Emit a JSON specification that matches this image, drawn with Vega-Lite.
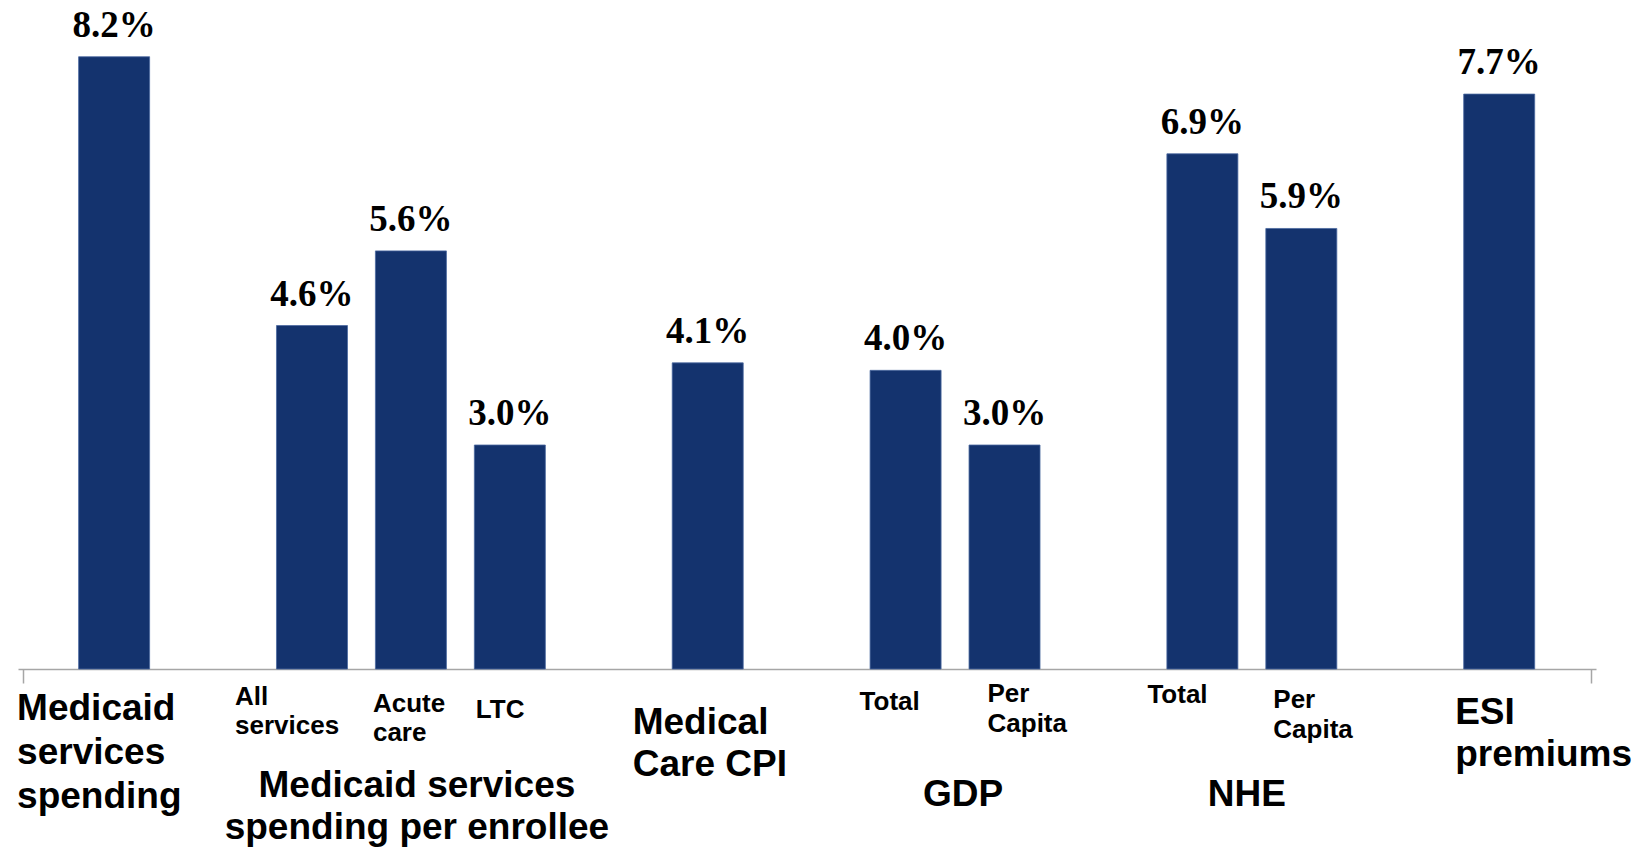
{
  "$schema": "https://vega.github.io/schema/vega-lite/v6.json",
  "width": 1578,
  "height": 669,
  "autosize": {"type": "none"},
  "padding": {"left": 18, "top": 0, "right": 55, "bottom": 180},
  "background": "white",
  "config": {"view": {"stroke": null}},
  "datasets": {
    "bars": [
      {"slot": 0, "item": "Medicaid services spending", "value": 8.2, "label": "8.2%"},
      {"slot": 2, "item": "All services", "value": 4.6, "label": "4.6%"},
      {"slot": 3, "item": "Acute care", "value": 5.6, "label": "5.6%"},
      {"slot": 4, "item": "LTC", "value": 3.0, "label": "3.0%"},
      {"slot": 6, "item": "Medical Care CPI", "value": 4.1, "label": "4.1%"},
      {"slot": 8, "item": "GDP Total", "value": 4.0, "label": "4.0%"},
      {"slot": 9, "item": "GDP Per Capita", "value": 3.0, "label": "3.0%"},
      {"slot": 11, "item": "NHE Total", "value": 6.9, "label": "6.9%"},
      {"slot": 12, "item": "NHE Per Capita", "value": 5.9, "label": "5.9%"},
      {"slot": 14, "item": "ESI premiums", "value": 7.7, "label": "7.7%"}
    ],
    "labels": [
      {"key": "mss", "slot": 0, "text": "Medicaid\nservices\nspending"},
      {"key": "all", "slot": 2, "text": "All\nservices"},
      {"key": "acute", "slot": 3, "text": "Acute\ncare"},
      {"key": "ltc", "slot": 4, "text": "LTC"},
      {"key": "mspe", "slot": 3, "text": "Medicaid services\nspending per enrollee"},
      {"key": "cpi", "slot": 6, "text": "Medical\nCare CPI"},
      {"key": "gdpt", "slot": 8, "text": "Total"},
      {"key": "gdpp", "slot": 9, "text": "Per\nCapita"},
      {"key": "gdp", "slot": 8.5, "text": "GDP"},
      {"key": "nhet", "slot": 11, "text": "Total"},
      {"key": "nhep", "slot": 12, "text": "Per\nCapita"},
      {"key": "nhe", "slot": 11.5, "text": "NHE"},
      {"key": "esi", "slot": 14, "text": "ESI\npremiums"}
    ]
  },
  "encoding": {
    "x": {
      "field": "slot",
      "type": "quantitative",
      "scale": {"domain": [-0.921, 14.928], "nice": false, "zero": false},
      "axis": {
        "title": null,
        "labels": false,
        "grid": false,
        "values": [-0.921, 14.928],
        "ticks": true,
        "tickSize": 14,
        "tickColor": "#a6a6a6",
        "tickWidth": 1.5,
        "domainColor": "#a6a6a6",
        "domainWidth": 1.5
      }
    }
  },
  "layer": [
    {
      "data": {"name": "bars"},
      "mark": {"type": "bar", "size": 71, "color": "#14336e", "stroke": "#4a68a0", "strokeWidth": 0.8},
      "encoding": {
        "y": {"field": "value", "type": "quantitative", "scale": {"domain": [0, 8.96], "nice": false}, "axis": null}
      }
    },
    {
      "data": {"name": "bars"},
      "mark": {"type": "text", "font": "Liberation Serif", "fontWeight": "bold", "fontSize": 37, "baseline": "alphabetic", "dy": -20, "color": "#000000"},
      "encoding": {
        "y": {"field": "value", "type": "quantitative"},
        "text": {"field": "label"}
      }
    },
    {
      "data": {"name": "labels"},
      "transform": [{"filter": "datum.key === 'mss'"}],
      "mark": {"type": "text", "font": "Liberation Sans", "fontWeight": "bold", "fontSize": 37, "lineHeight": 44, "lineBreak": "\n", "align": "left", "baseline": "alphabetic", "dx": -97, "dy": 51},
      "encoding": {"y": {"datum": 0}, "text": {"field": "text"}}
    },
    {
      "data": {"name": "labels"},
      "transform": [{"filter": "datum.key === 'all'"}],
      "mark": {"type": "text", "font": "Liberation Sans", "fontWeight": "bold", "fontSize": 26, "lineHeight": 29, "lineBreak": "\n", "align": "left", "baseline": "alphabetic", "dx": -77, "dy": 36},
      "encoding": {"y": {"datum": 0}, "text": {"field": "text"}}
    },
    {
      "data": {"name": "labels"},
      "transform": [{"filter": "datum.key === 'acute'"}],
      "mark": {"type": "text", "font": "Liberation Sans", "fontWeight": "bold", "fontSize": 26, "lineHeight": 29, "lineBreak": "\n", "align": "left", "baseline": "alphabetic", "dx": -38, "dy": 43},
      "encoding": {"y": {"datum": 0}, "text": {"field": "text"}}
    },
    {
      "data": {"name": "labels"},
      "transform": [{"filter": "datum.key === 'ltc'"}],
      "mark": {"type": "text", "font": "Liberation Sans", "fontWeight": "bold", "fontSize": 26, "lineHeight": 29, "lineBreak": "\n", "align": "left", "baseline": "alphabetic", "dx": -34, "dy": 49},
      "encoding": {"y": {"datum": 0}, "text": {"field": "text"}}
    },
    {
      "data": {"name": "labels"},
      "transform": [{"filter": "datum.key === 'mspe'"}],
      "mark": {"type": "text", "font": "Liberation Sans", "fontWeight": "bold", "fontSize": 37, "lineHeight": 42, "lineBreak": "\n", "align": "center", "baseline": "alphabetic", "dx": 6, "dy": 128},
      "encoding": {"y": {"datum": 0}, "text": {"field": "text"}}
    },
    {
      "data": {"name": "labels"},
      "transform": [{"filter": "datum.key === 'cpi'"}],
      "mark": {"type": "text", "font": "Liberation Sans", "fontWeight": "bold", "fontSize": 37, "lineHeight": 42, "lineBreak": "\n", "align": "left", "baseline": "alphabetic", "dx": -75, "dy": 65},
      "encoding": {"y": {"datum": 0}, "text": {"field": "text"}}
    },
    {
      "data": {"name": "labels"},
      "transform": [{"filter": "datum.key === 'gdpt'"}],
      "mark": {"type": "text", "font": "Liberation Sans", "fontWeight": "bold", "fontSize": 26, "lineHeight": 29, "lineBreak": "\n", "align": "left", "baseline": "alphabetic", "dx": -46, "dy": 41},
      "encoding": {"y": {"datum": 0}, "text": {"field": "text"}}
    },
    {
      "data": {"name": "labels"},
      "transform": [{"filter": "datum.key === 'gdpp'"}],
      "mark": {"type": "text", "font": "Liberation Sans", "fontWeight": "bold", "fontSize": 26, "lineHeight": 30, "lineBreak": "\n", "align": "left", "baseline": "alphabetic", "dx": -17, "dy": 33},
      "encoding": {"y": {"datum": 0}, "text": {"field": "text"}}
    },
    {
      "data": {"name": "labels"},
      "transform": [{"filter": "datum.key === 'gdp'"}],
      "mark": {"type": "text", "font": "Liberation Sans", "fontWeight": "bold", "fontSize": 37, "align": "center", "baseline": "alphabetic", "dx": 8, "dy": 137},
      "encoding": {"y": {"datum": 0}, "text": {"field": "text"}}
    },
    {
      "data": {"name": "labels"},
      "transform": [{"filter": "datum.key === 'nhet'"}],
      "mark": {"type": "text", "font": "Liberation Sans", "fontWeight": "bold", "fontSize": 26, "lineHeight": 29, "lineBreak": "\n", "align": "left", "baseline": "alphabetic", "dx": -55, "dy": 34},
      "encoding": {"y": {"datum": 0}, "text": {"field": "text"}}
    },
    {
      "data": {"name": "labels"},
      "transform": [{"filter": "datum.key === 'nhep'"}],
      "mark": {"type": "text", "font": "Liberation Sans", "fontWeight": "bold", "fontSize": 26, "lineHeight": 30, "lineBreak": "\n", "align": "left", "baseline": "alphabetic", "dx": -28, "dy": 39},
      "encoding": {"y": {"datum": 0}, "text": {"field": "text"}}
    },
    {
      "data": {"name": "labels"},
      "transform": [{"filter": "datum.key === 'nhe'"}],
      "mark": {"type": "text", "font": "Liberation Sans", "fontWeight": "bold", "fontSize": 37, "align": "center", "baseline": "alphabetic", "dx": -5, "dy": 137},
      "encoding": {"y": {"datum": 0}, "text": {"field": "text"}}
    },
    {
      "data": {"name": "labels"},
      "transform": [{"filter": "datum.key === 'esi'"}],
      "mark": {"type": "text", "font": "Liberation Sans", "fontWeight": "bold", "fontSize": 37, "lineHeight": 42, "lineBreak": "\n", "align": "left", "baseline": "alphabetic", "dx": -44, "dy": 55},
      "encoding": {"y": {"datum": 0}, "text": {"field": "text"}}
    }
  ]
}
